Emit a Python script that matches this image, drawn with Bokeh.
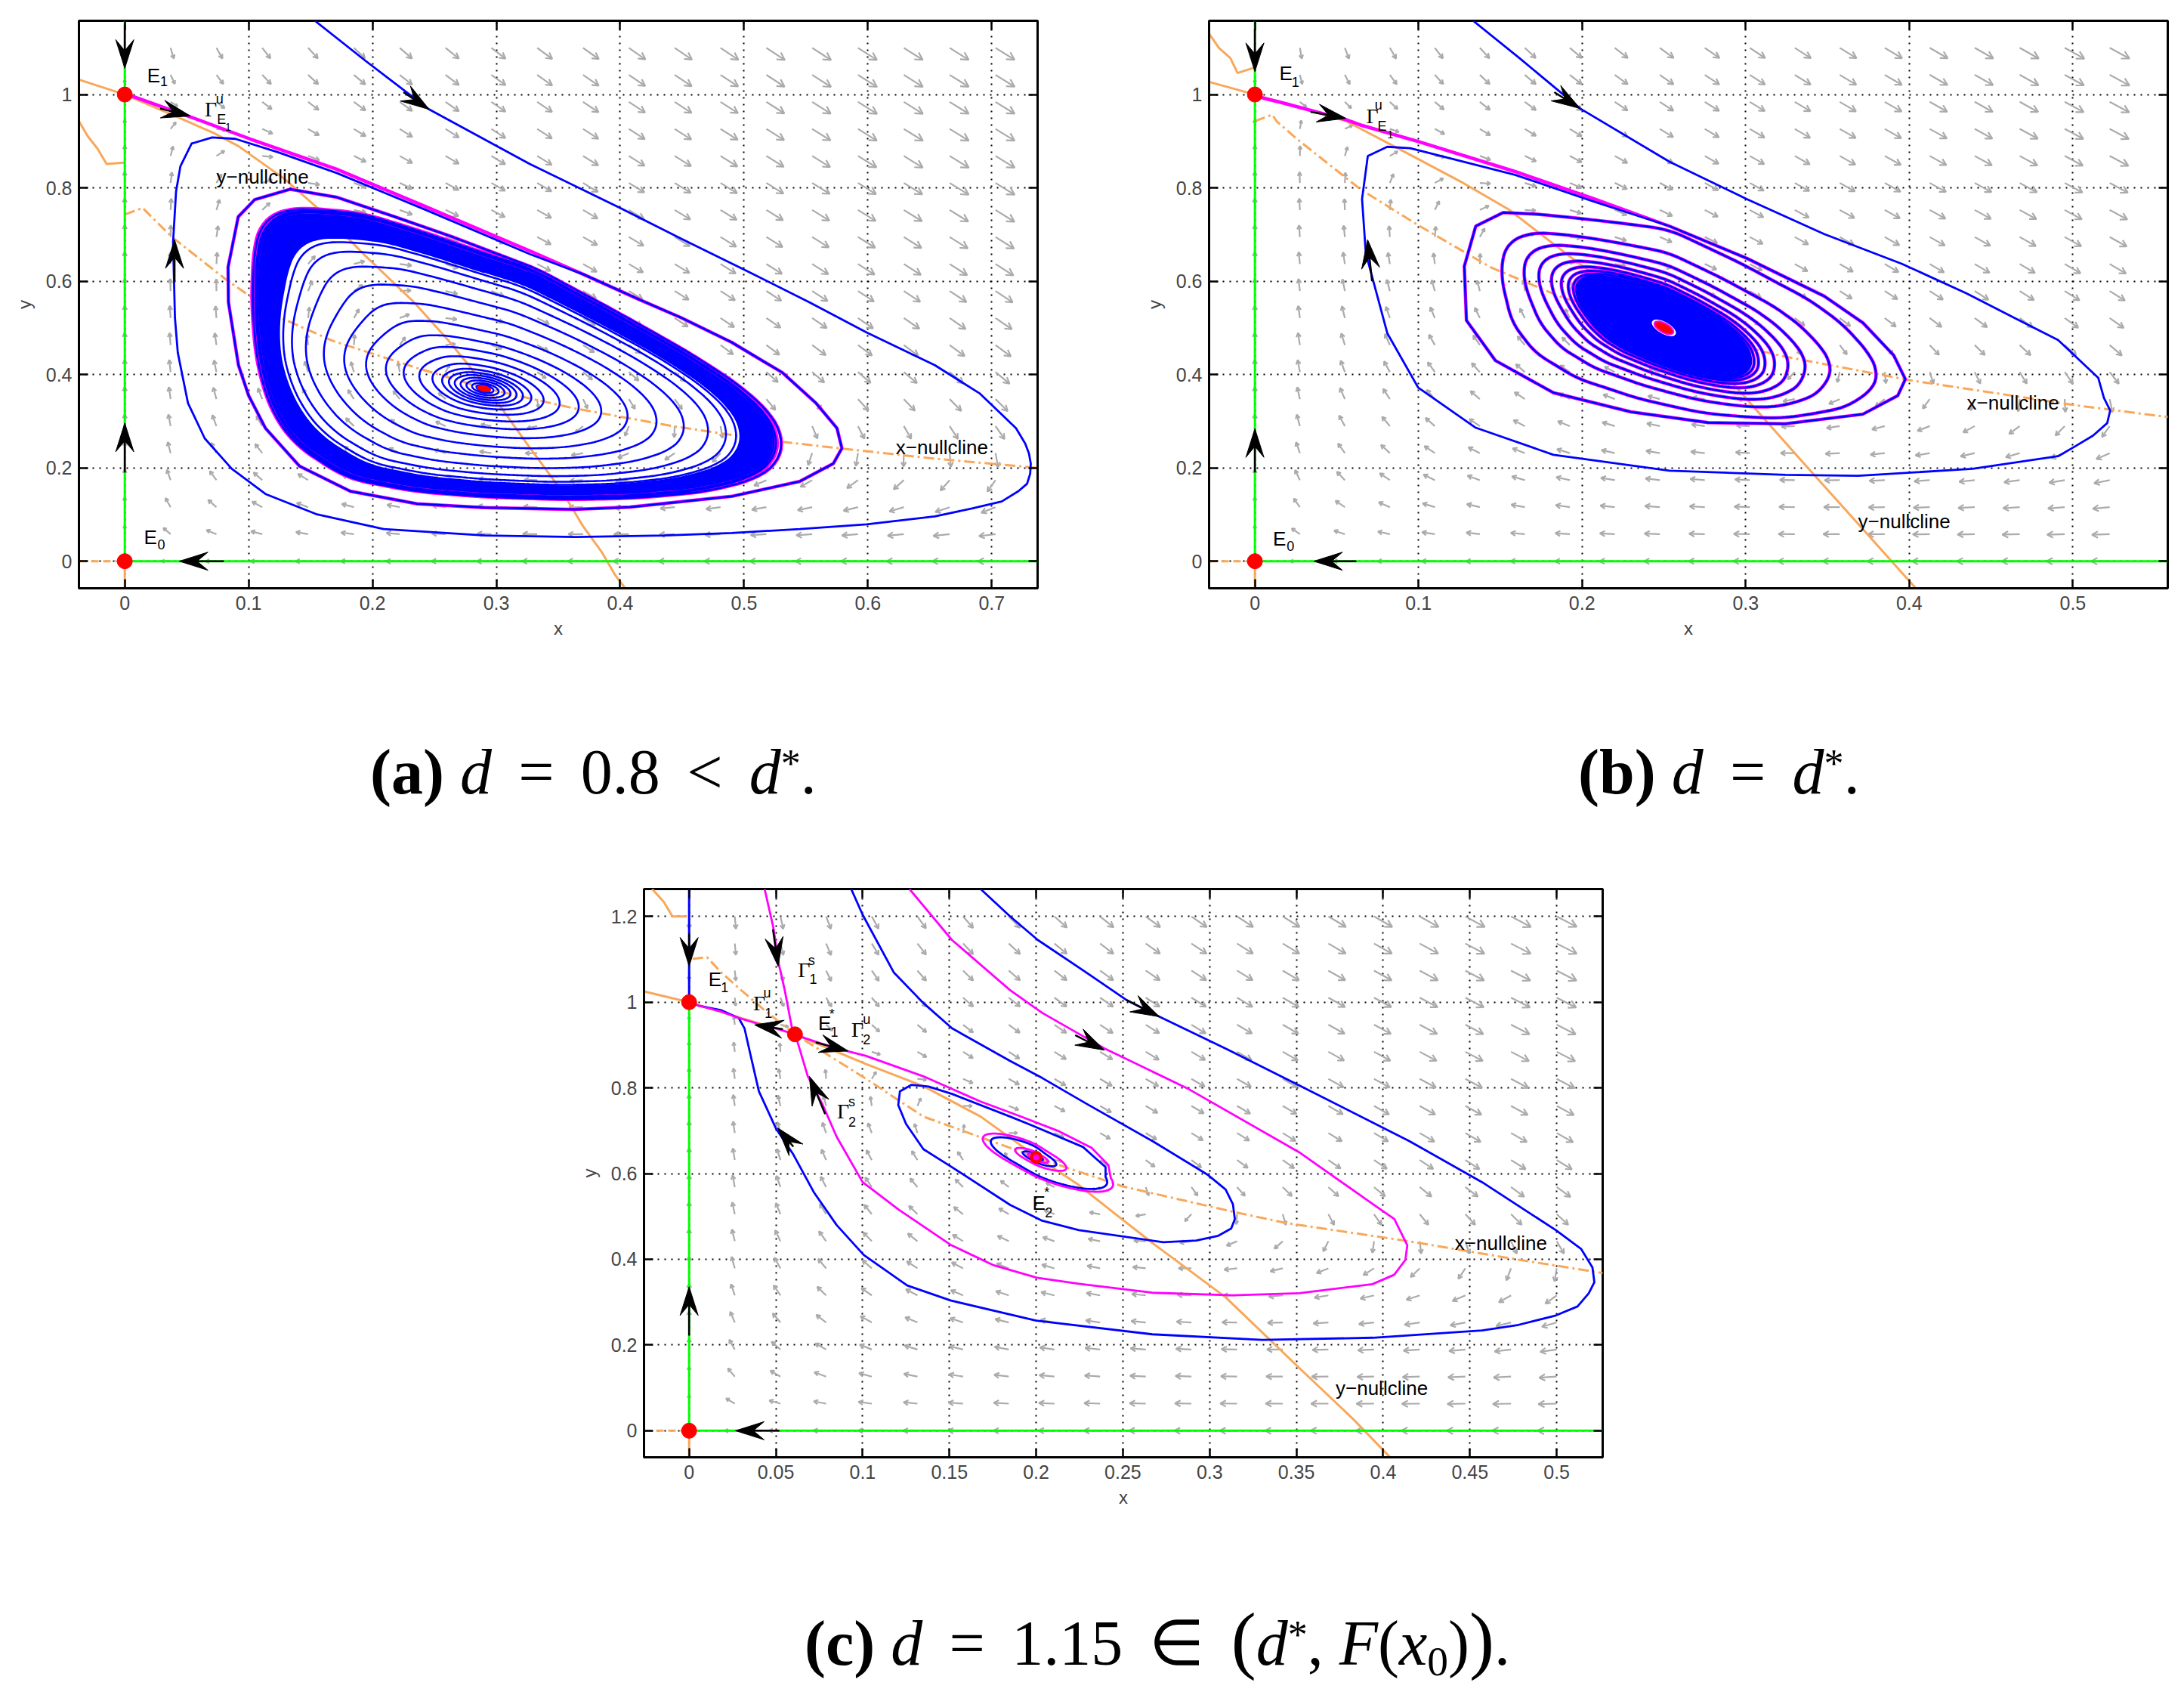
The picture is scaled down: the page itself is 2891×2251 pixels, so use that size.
import numpy as np
from bokeh.plotting import figure
from bokeh.models import Range1d, FixedTicker, LinearAxis, Div, Spacer
from bokeh.layouts import row, column
from bokeh.embed import file_html
from bokeh.resources import INLINE
from bokeh.core.properties import value

# ------------------------------------------------------------------
# Values
# ------------------------------------------------------------------
# vector-field coefficients, fitted to the nullclines
PREY_NULL_LIN = 0.82          # y-nullcline  y = 1 - 0.82 x - 4.54 x^2
PREY_NULL_QUAD = 4.54
PRED_NULL_K = 3.45            # x-nullcline  y = c / (1 + 3.45 x)
PRED_NULL_C = [0.74, 0.93, 1.064]   # panels a, b, c
PRED_RATE = 0.91

# ---------------- panel (a) ----------------
A_XR = [-0.037, 0.737]
A_YR = [-0.058, 1.158]
A_XTICKS = [0, 0.1, 0.2, 0.3, 0.4, 0.5, 0.6, 0.7]
A_XLABELS = ["0", "0.1", "0.2", "0.3", "0.4", "0.5", "0.6", "0.7"]
A_YTICKS = [0, 0.2, 0.4, 0.6, 0.8, 1.0]
A_YLABELS = ["0", "0.2", "0.4", "0.6", "0.8", "1"]
A_QX = [0.0, 0.703, 20]
A_QY = [0.0, 1.1, 20]
A_EQ_X = [0.0, 0.0]
A_EQ_Y = [0.0, 1.0]
A_FOCUS = [0.29, 0.37]
A_Y_NULL = [(-0.037, 1.032), (0.0, 1.0), (0.038, 0.957), (0.073, 0.916), (0.092, 0.889), (0.129, 0.819),
            (0.159, 0.749), (0.194, 0.655), (0.2335, 0.555), (0.261, 0.474), (0.291, 0.377), (0.326, 0.247),
            (0.353, 0.15), (0.37, 0.075), (0.385, 0.02), (0.396, -0.03), (0.404, -0.058)]
A_X_NULL = [(0.0, 0.743), (0.0145, 0.757), (0.0215, 0.738), (0.038, 0.695), (0.059, 0.651), (0.082, 0.603),
            (0.106, 0.559), (0.124, 0.524), (0.168, 0.472), (0.236, 0.414), (0.29, 0.371), (0.362, 0.328),
            (0.441, 0.29), (0.517, 0.26), (0.577, 0.242), (0.653, 0.22), (0.737, 0.2)]
A_X_NULL_EDGE = [(-0.037, 0.943), (-0.030, 0.911), (-0.022, 0.884), (-0.0147, 0.851), (-0.0007, 0.854)]
A_GAMMA_TOP = [(0.0, 1.0), (0.0075, 0.995), (0.054, 0.951), (0.101, 0.905), (0.171, 0.84), (0.241, 0.762),
               (0.327, 0.665)]
A_FIRST_LOOP = [(0.37, 0.615), (0.416, 0.56), (0.449, 0.522), (0.49, 0.469), (0.531, 0.404), (0.558, 0.339),
                (0.575, 0.285), (0.579, 0.242), (0.572, 0.209), (0.545, 0.171), (0.49, 0.139), (0.408, 0.116),
                (0.364, 0.111), (0.29, 0.115), (0.236, 0.123), (0.182, 0.15), (0.141, 0.204), (0.1136, 0.285),
                (0.1, 0.355), (0.0918, 0.42), (0.0837, 0.555), (0.0834, 0.63), (0.0916, 0.738), (0.105, 0.775),
                (0.1336, 0.797), (0.171, 0.78), (0.218, 0.738), (0.2645, 0.695), (0.327, 0.632)]
A_ORBIT_OUT = [(0.1535, 1.158), (0.194, 1.073), (0.2458, 0.968), (0.3, 0.89), (0.327, 0.851), (0.4, 0.757),
               (0.45, 0.69), (0.5, 0.625), (0.5527, 0.555), (0.599, 0.49), (0.654, 0.42), (0.69, 0.36),
               (0.709, 0.312), (0.7196, 0.285), (0.727, 0.252), (0.730, 0.231), (0.7315, 0.209),
               (0.731, 0.1876), (0.7285, 0.166), (0.7215, 0.15), (0.708, 0.128), (0.684, 0.113),
               (0.654, 0.096), (0.599, 0.079), (0.545, 0.069), (0.49, 0.0605), (0.4355, 0.055), (0.364, 0.052),
               (0.291, 0.055), (0.209, 0.069), (0.1545, 0.101), (0.1136, 0.144), (0.0864, 0.198),
               (0.0646, 0.263), (0.051, 0.339), (0.0428, 0.447), (0.0405, 0.522), (0.039, 0.684),
               (0.0414, 0.792), (0.0449, 0.846), (0.054, 0.895), (0.0706, 0.908), (0.0893, 0.905),
               (0.124, 0.876), (0.171, 0.832), (0.241, 0.755), (0.327, 0.658)]
A_CYCLE = [(0.107, 0.60), (0.109, 0.68), (0.115, 0.725), (0.129, 0.745), (0.148, 0.749), (0.194, 0.738),
           (0.241, 0.70), (0.288, 0.657), (0.327, 0.624), (0.3945, 0.528), (0.449, 0.447), (0.49, 0.377),
           (0.517, 0.312), (0.525, 0.263), (0.523, 0.22), (0.504, 0.182), (0.463, 0.155), (0.408, 0.142),
           (0.354, 0.139), (0.29, 0.144), (0.236, 0.155), (0.182, 0.182), (0.141, 0.252), (0.122, 0.323),
           (0.111, 0.42), (0.107, 0.528)]
A_ELLIPSE = [0.19, 0.20, -0.5]
A_INNER_TURNS = [0.01, 0.02, 0.035, 0.055, 0.08, 0.105, 0.13, 0.155, 0.185, 0.23, 0.29, 0.36, 0.44, 0.53,
                 0.63, 0.72, 0.80, 0.86, 0.895, 0.91]
A_BAND = [0.91, 1.0]
A_GAMMA_TURNS = [1.02, 1.01, 1.003]
A_ORBIT_TURNS = [1.015, 1.006, 1.0]
A_ARROWS = [(0.0, 1.15, 0.0, 1.056), (0.0285, 0.97, 0.053, 0.954), (0.225, 1.005, 0.2458, 0.968),
            (0.0402, 0.60, 0.0402, 0.689), (0.0, 0.19, 0.0, 0.296), (0.08, 0.0, 0.044, 0.0)]
A_LABELS = [("E", 0.018, 1.040, "main"), ("1", 0.0285, 1.028, "sub"),
            ("\u0393", 0.0645, 0.968, "gamma"), ("u", 0.0735, 0.99, "sub"), ("E", 0.0745, 0.946, "sub"),
            ("1", 0.081, 0.931, "tiny"),
            ("y\u2212nullcline", 0.074, 0.824, "main"), ("x\u2212nullcline", 0.6225, 0.244, "main"),
            ("E", 0.0155, 0.052, "main"), ("0", 0.0264, 0.036, "sub")]

# ---------------- panel (b) ----------------
B_XR = [-0.028, 0.558]
B_YR = [-0.058, 1.158]
B_XTICKS = [0, 0.1, 0.2, 0.3, 0.4, 0.5]
B_XLABELS = ["0", "0.1", "0.2", "0.3", "0.4", "0.5"]
B_YTICKS = [0, 0.2, 0.4, 0.6, 0.8, 1.0]
B_YLABELS = ["0", "0.2", "0.4", "0.6", "0.8", "1"]
B_QX = [0.0, 0.5225, 20]
B_QY = [0.0, 1.1, 20]
B_EQ_X = [0.0, 0.0]
B_EQ_Y = [0.0, 1.0]
B_FOCUS = [0.25, 0.50]
B_Y_NULL = [(-0.028, 1.027), (0.0, 1.0), (0.015, 0.984), (0.0557, 0.943), (0.091, 0.878), (0.126, 0.813),
            (0.155, 0.754), (0.194, 0.649), (0.25, 0.505), (0.2916, 0.383), (0.337, 0.204), (0.37, 0.075),
            (0.404, -0.058)]
B_X_NULL = [(0.0, 0.943), (0.0106, 0.957), (0.0132, 0.943), (0.0256, 0.905), (0.0645, 0.797), (0.0998, 0.72),
            (0.144, 0.63), (0.188, 0.565), (0.25, 0.5), (0.323, 0.439), (0.4, 0.388), (0.502, 0.334),
            (0.558, 0.309)]
B_X_NULL_EDGE = [(-0.0283, 1.132), (-0.022, 1.1), (-0.015, 1.078), (-0.0106, 1.046), (-0.0009, 1.057)]
B_GAMMA_TOP = [(0.0, 1.0), (0.0053, 0.992), (0.015, 0.984), (0.0557, 0.946), (0.0643, 0.935), (0.1, 0.899),
               (0.159, 0.835), (0.206, 0.778)]
B_FIRST_LOOP = [(0.2534, 0.718), (0.3007, 0.649), (0.348, 0.568), (0.3716, 0.511), (0.3905, 0.441),
                (0.3976, 0.39), (0.393, 0.355), (0.3716, 0.315), (0.3243, 0.2945), (0.277, 0.297),
                (0.2298, 0.32), (0.1825, 0.361), (0.147, 0.43), (0.1293, 0.516), (0.128, 0.632),
                (0.135, 0.718), (0.1518, 0.747), (0.1707, 0.744)]
B_ORBIT_OUT = [(0.1334, 1.158), (0.1617, 1.078), (0.1988, 0.97), (0.2534, 0.856), (0.3007, 0.776),
               (0.348, 0.701), (0.3953, 0.6375), (0.435, 0.574), (0.465, 0.52), (0.491, 0.474), (0.5155, 0.393),
               (0.519, 0.35), (0.5228, 0.323), (0.521, 0.296), (0.5123, 0.269), (0.5018, 0.247),
               (0.491, 0.225), (0.4387, 0.198), (0.3687, 0.183),
               (0.3243, 0.185), (0.2534, 0.194), (0.1825, 0.228), (0.135, 0.286), (0.0998, 0.372),
               (0.081, 0.488), (0.0678, 0.66), (0.0655, 0.776), (0.069, 0.868), (0.0809, 0.888),
               (0.095, 0.885), (0.159, 0.828), (0.206, 0.772)]
B_ELLIPSE = [0.125, 0.17, -1.6]
B_TURNS = [0.81, 0.70, 0.625, 0.56, 0.51, 0.475, 0.45, 0.435]
B_BLOB = 0.43
B_ARROWS = [(0.0, 1.14, 0.0, 1.049), (0.034, 0.963, 0.0557, 0.949), (0.183, 1.005, 0.1988, 0.97),
            (0.0716, 0.60, 0.0689, 0.689), (0.0, 0.19, 0.0, 0.284), (0.062, 0.0, 0.036, 0.0)]
B_LABELS = [("E", 0.015, 1.046, "main"), ("1", 0.0225, 1.027, "sub"),
            ("\u0393", 0.068, 0.954, "gamma"), ("u", 0.0733, 0.978, "sub"), ("E", 0.075, 0.932, "sub"),
            ("1", 0.081, 0.915, "tiny"),
            ("x\u2212nullcline", 0.4352, 0.339, "main"), ("y\u2212nullcline", 0.3687, 0.085, "main"),
            ("E", 0.011, 0.048, "main"), ("0", 0.0195, 0.032, "sub")]

# ---------------- panel (c) ----------------
C_XR = [-0.026, 0.5265]
C_YR = [-0.062, 1.264]
C_XTICKS = [0, 0.05, 0.1, 0.15, 0.2, 0.25, 0.3, 0.35, 0.4, 0.45, 0.5]
C_XLABELS = ["0", "0.05", "0.1", "0.15", "0.2", "0.25", "0.3", "0.35", "0.4", "0.45", "0.5"]
C_YTICKS = [0, 0.2, 0.4, 0.6, 0.8, 1.0, 1.2]
C_YLABELS = ["0", "0.2", "0.4", "0.6", "0.8", "1", "1.2"]
C_QX = [0.0, 0.5, 20]
C_QY = [0.0, 1.2, 20]
C_EQ_X = [0.0, 0.0, 0.061]
C_EQ_Y = [0.0, 1.0, 0.925]
C_FOCUS = [0.2, 0.638]
C_Y_NULL = [(-0.026, 1.025), (0.0, 1.0), (0.03, 0.963), (0.061, 0.925), (0.1017, 0.856), (0.135, 0.804),
            (0.168, 0.733), (0.2, 0.64), (0.224, 0.575), (0.249, 0.495), (0.268, 0.435), (0.309, 0.312),
            (0.3515, 0.147), (0.383, 0.026), (0.404, -0.062)]
C_X_NULL = [(0.002, 1.101), (0.0103, 1.105), (0.0186, 1.069), (0.030, 1.028), (0.0435, 0.981), (0.061, 0.925),
            (0.1017, 0.822), (0.135, 0.733), (0.2, 0.638), (0.25, 0.57), (0.3134, 0.511), (0.3436, 0.485),
            (0.415, 0.442), (0.478, 0.399), (0.5265, 0.368)]
C_X_NULL_EDGE = [(-0.0213, 1.264), (-0.0146, 1.234), (-0.0096, 1.2), (-0.0013, 1.2)]
C_AXIS_ORBIT = [(0.0, 1.264), (0.0, 1.0)]
C_GAMMA_S1 = [(0.0435, 1.264), (0.0485, 1.175), (0.0518, 1.087), (0.0551, 1.028), (0.0593, 0.939),
              (0.061, 0.925)]
C_GAMMA_U1 = [(0.061, 0.925), (0.05, 0.939), (0.0385, 0.951), (0.0286, 0.963), (0.0186, 0.978),
              (0.0053, 0.992), (0.0, 1.0)]
C_GAMMA_U2 = [(0.061, 0.925), (0.0668, 0.916), (0.085, 0.892), (0.1017, 0.875), (0.135, 0.827),
              (0.168, 0.768), (0.19, 0.735), (0.2124, 0.70), (0.232, 0.66), (0.2416, 0.62), (0.243, 0.59)]
C_GAMMA_U2_TURNS = [0.45, 0.18, 0.07, 0.02]
C_GAMMA_S2 = [(0.127, 1.264), (0.1515, 1.145), (0.185, 1.028), (0.2035, 0.975), (0.229, 0.916),
              (0.2394, 0.892), (0.288, 0.797), (0.3515, 0.65), (0.394, 0.529), (0.4064, 0.494),
              (0.4139, 0.433), (0.4128, 0.3986), (0.4064, 0.364), (0.3938, 0.342), (0.3515, 0.321),
              (0.3134, 0.316), (0.267, 0.322), (0.2246, 0.343), (0.2005, 0.357), (0.1756, 0.386),
              (0.1506, 0.434), (0.1207, 0.516), (0.1, 0.58), (0.085, 0.686), (0.0767, 0.763), (0.0684, 0.827),
              (0.063, 0.9), (0.061, 0.925)]
C_ORBIT_MID = [(0.0934, 1.264), (0.1, 1.204), (0.118, 1.069), (0.135, 0.998), (0.1515, 0.939), (0.185, 0.863),
               (0.2035, 0.823), (0.229, 0.763), (0.267, 0.676), (0.2986, 0.598), (0.3092, 0.563),
               (0.3134, 0.5286), (0.3145, 0.494), (0.3124, 0.472), (0.305, 0.455), (0.2923, 0.4437),
               (0.2733, 0.44), (0.2246, 0.468), (0.2035, 0.49), (0.185, 0.527),
               (0.1515, 0.615), (0.135, 0.657), (0.125, 0.716), (0.1205, 0.76), (0.1215, 0.792), (0.128, 0.807),
               (0.138, 0.803), (0.1515, 0.786), (0.185, 0.733), (0.1978, 0.712), (0.227, 0.662), (0.24, 0.615),
               (0.24, 0.592)]
C_ORBIT_MID_TURNS = [0.3, 0.1, 0.03]
C_ORBIT_OUT = [(0.168, 1.264), (0.185, 1.2), (0.201, 1.145), (0.229, 1.069), (0.2521, 1.005), (0.2711, 0.966),
               (0.31, 0.89), (0.3515, 0.806), (0.415, 0.676), (0.457, 0.58), (0.4995, 0.468), (0.514, 0.4246),
               (0.5206, 0.381), (0.5217, 0.3466), (0.5185, 0.321), (0.512, 0.29), (0.4995, 0.269),
               (0.478, 0.247), (0.457, 0.234), (0.394, 0.217), (0.3303, 0.212),
               (0.267, 0.225), (0.2, 0.257), (0.1506, 0.304), (0.1257, 0.339), (0.1007, 0.41), (0.085, 0.48),
               (0.0718, 0.557), (0.060, 0.645), (0.0502, 0.704), (0.0402, 0.792), (0.0352, 0.88),
               (0.0319, 0.939), (0.0286, 0.963), (0.0186, 0.981), (0.0053, 0.992), (0.0, 1.0)]
C_ELLIPSE = [0.039, 0.045, -1.44]
C_ARROWS = [(0.0, 1.16, 0.0, 1.084), (0.0483, 1.17, 0.0513, 1.084), (0.054, 0.937, 0.0377, 0.947),
            (0.073, 0.906, 0.0917, 0.886), (0.0784, 0.739, 0.0693, 0.827), (0.0601, 0.6626, 0.051, 0.7067),
            (0.2521, 1.005, 0.2711, 0.966), (0.2225, 0.923, 0.2394, 0.888), (0.0, 0.222, 0.0, 0.336),
            (0.052, 0.0, 0.0267, 0.0)]
C_LABELS = [("E", 0.0111, 1.054, "main"), ("1", 0.0183, 1.034, "sub"),
            ("\u0393", 0.0627, 1.075, "gamma"), ("s", 0.0686, 1.098, "sub"), ("1", 0.0694, 1.054, "sub"),
            ("\u0393", 0.0369, 0.998, "gamma"), ("u", 0.0428, 1.021, "sub"), ("1", 0.0436, 0.975, "sub"),
            ("E", 0.0744, 0.951, "main"), ("*", 0.0808, 0.972, "sub"), ("1", 0.0815, 0.93, "sub"),
            ("\u0393", 0.0935, 0.936, "gamma"), ("u", 0.1002, 0.96, "sub"), ("2", 0.1002, 0.913, "sub"),
            ("\u0393", 0.0852, 0.745, "gamma"), ("s", 0.0918, 0.768, "sub"), ("2", 0.0918, 0.721, "sub"),
            ("E", 0.1978, 0.532, "main"), ("*", 0.2046, 0.556, "sub"), ("2", 0.2051, 0.509, "sub"),
            ("x\u2212nullcline", 0.4413, 0.4376, "main"), ("y\u2212nullcline", 0.3726, 0.100, "main")]

OP = "<span style='margin:0 0.17em'>{}</span>"
CAPTION_A = ("<b>(a)</b>&nbsp;<i>d</i>&nbsp;" + OP.format("=") + "&nbsp;0.8&nbsp;" + OP.format("&lt;")
             + "&nbsp;<i>d</i>{s}.")
CAPTION_B = "<b>(b)</b>&nbsp;<i>d</i>&nbsp;" + OP.format("=") + "&nbsp;<i>d</i>{s}."
CAPTION_C = ("<b>(c)</b>&nbsp;<i>d</i>&nbsp;" + OP.format("=") + "&nbsp;1.15&nbsp;" + OP.format("\u2208")
             + "&nbsp;<span style='font-size:118%'>(</span><i>d</i>{s},&nbsp;<i>F</i>(<i>x</i>{o})"
             "<span style='font-size:118%'>)</span>.")

# ------------------------------------------------------------------
# styling
# ------------------------------------------------------------------
FRAME_W = 1269
BLUE, MAGENTA, GREEN, ORANGE, RED, GRAY = "#0000FF", "#FF00FF", "#00FF00", "#F8A85A", "#FF0000", "#ABABAB"
SANS = "Liberation Sans"
LABEL_STYLE = {"main": (SANS, "26px"), "sub": (SANS, "18px"), "tiny": (SANS, "14px"),
               "gamma": ("Liberation Serif", "28px")}


def arr(pts):
    a = np.asarray(pts, float)
    return a[:, 0], a[:, 1]


def base_fig(xr, yr, xt, xl, yt, yl, fh, bl, br, bt, bb):
    p = figure(x_range=Range1d(*xr), y_range=Range1d(*yr), frame_width=FRAME_W, frame_height=fh,
               min_border_left=bl, min_border_right=br, min_border_top=bt, min_border_bottom=bb,
               output_backend="svg", toolbar_location=None, background_fill_color="white",
               border_fill_color="white", outline_line_color="black", outline_line_width=3, margin=0)
    p.xaxis.ticker = FixedTicker(ticks=xt)
    p.xaxis.major_label_overrides = dict(zip(xt, xl))
    p.yaxis.ticker = FixedTicker(ticks=yt)
    p.yaxis.major_label_overrides = dict(zip(yt, yl))
    for ax in (p.xaxis[0], p.yaxis[0]):
        ax.major_tick_in = 12
        ax.major_tick_out = 0
        ax.minor_tick_line_color = None
        ax.major_tick_line_width = 2.5
        ax.axis_line_width = 3
        ax.major_label_text_font = SANS
        ax.major_label_text_font_size = "25px"
        ax.axis_label_text_font = SANS
        ax.axis_label_text_font_size = "24px"
        ax.axis_label_text_font_style = "normal"
    p.xaxis.axis_label = "x"
    p.yaxis.axis_label = "y"
    p.xaxis.major_label_standoff = 10
    p.yaxis.major_label_standoff = 9
    p.xaxis.axis_label_standoff = 8
    p.yaxis.axis_label_standoff = 12
    p.xgrid.ticker = FixedTicker(ticks=xt)
    p.ygrid.ticker = FixedTicker(ticks=yt)
    p.grid.grid_line_color = "black"
    p.grid.grid_line_dash = "2 7"
    p.grid.grid_line_width = 2
    for loc, t in (("above", xt), ("right", yt)):
        ax = LinearAxis(ticker=FixedTicker(ticks=t), major_tick_in=12, major_tick_out=0,
                        minor_tick_line_color=None, major_tick_line_width=2.5, axis_line_color=None,
                        major_label_text_color=None, major_label_standoff=0)
        p.add_layout(ax, loc)
    return p


def densify(pts, sx, sy, n=1200, win=41):
    """Resample a closed read-off outline evenly along its length and round its corners."""
    x, y = arr(list(pts) + [pts[0]])
    seg = np.hypot(np.diff(x) * sx, np.diff(y) * sy)
    s = np.concatenate([[0], np.cumsum(seg)])
    q = np.linspace(0, s[-1], n, endpoint=False)
    xs, ys = np.interp(q, s, x), np.interp(q, s, y)
    k = np.ones(win) / win
    pad = win // 2
    xs = np.convolve(np.concatenate([xs[-pad:], xs, xs[:pad]]), k, mode="valid")
    ys = np.convolve(np.concatenate([ys[-pad:], ys, ys[:pad]]), k, mode="valid")
    return xs, ys


def polar_fn(px, py, c, sx, sy):
    u = (np.asarray(px, float) - c[0]) * sx
    v = (np.asarray(py, float) - c[1]) * sy
    phi = np.arctan2(v, u)
    r = np.hypot(u, v)
    o = np.argsort(phi)
    phi, r = phi[o], r[o]
    P = np.concatenate([phi - 2 * np.pi, phi, phi + 2 * np.pi])
    R = np.concatenate([r, r, r])

    def f(q):
        q = np.mod(np.asarray(q, float) + np.pi, 2 * np.pi) - np.pi
        return np.interp(q, P, R)
    return f


def make_shape(c, sx, sy, tmpl, ell, pw=1.5):
    hx, hy, k = ell
    t = np.linspace(0, 2 * np.pi, 721)
    ex = c[0] + hx * np.cos(t)
    ey = c[1] + hy * np.sin(t) + k * hx * np.cos(t)
    rE = polar_fn(ex, ey, c, sx, sy)
    rT = polar_fn(*densify(tmpl, sx, sy), c, sx, sy) if tmpl is not None else rE

    def r_of(phi, s):
        w = np.clip(s, 0, 1) ** pw
        return s * (w * rT(phi) + (1 - w) * rE(phi))
    return r_of


def spiral(c, sx, sy, r_of, start, turns, n=360):
    cx, cy = c
    if start is None:
        phi0 = np.pi / 2
        s_list = list(turns)
    else:
        u0, v0 = (start[0] - cx) * sx, (start[1] - cy) * sy
        phi0, r0 = np.arctan2(v0, u0), np.hypot(u0, v0)
        s0 = 1.0
        for _ in range(40):
            s0 = s0 * r0 / float(r_of(np.array([phi0]), np.array([s0]))[0])
        s_list = [s0] + list(turns)
    N = len(s_list) - 1
    tau = np.linspace(0, N, N * n + 1)
    s = np.interp(tau, np.arange(N + 1), s_list)
    phi = phi0 - 2 * np.pi * tau
    r = r_of(phi, s)
    return cx + r * np.cos(phi) / sx, cy + r * np.sin(phi) / sy


def ring(c, sx, sy, r_of, s):
    phi = np.linspace(-np.pi, np.pi, 721)
    r = r_of(phi, np.full_like(phi, s))
    return c[0] + r * np.cos(phi) / sx, c[1] + r * np.sin(phi) / sy


def quiver(p, qx, qy, cpred, sx, sy):
    gx = np.linspace(qx[0], qx[1], int(qx[2]))
    gy = np.linspace(qy[0], qy[1], int(qy[2]))
    X, Y = np.meshgrid(gx, gy)
    U = PRED_RATE * X * (Y * (1 + PRED_NULL_K * X) - cpred)
    V = Y * (1 - Y - PREY_NULL_LIN * X - PREY_NULL_QUAD * X ** 2)
    su, sv = U * sx, V * sy
    m = np.hypot(su, sv)
    ok = m > 1e-6
    th = np.arctan2(sv, su)
    L = 27 * np.clip((m / 1500.0) ** 0.22, 0.4, 1.1)
    xs, ys = [], []
    for x0, y0, t, l in zip(X[ok], Y[ok], th[ok], L[ok]):
        tx, ty = x0 + l * np.cos(t) / sx, y0 + l * np.sin(t) / sy
        xs.append([x0, tx]); ys.append([y0, ty])
        b = 0.38 * l
        b1 = (tx + b * np.cos(t + np.pi - 0.5) / sx, ty + b * np.sin(t + np.pi - 0.5) / sy)
        b2 = (tx + b * np.cos(t + np.pi + 0.5) / sx, ty + b * np.sin(t + np.pi + 0.5) / sy)
        xs.append([b1[0], tx, b2[0]]); ys.append([b1[1], ty, b2[1]])
    p.multi_line(xs, ys, line_color=GRAY, line_width=2.2)


def black_arrows(p, arrows, sx, sy, L=38, W=12):
    hx, hy, lx, ly = [], [], [], []
    for x0, y0, x1, y1 in arrows:
        dx, dy = (x1 - x0) * sx, (y1 - y0) * sy
        n = np.hypot(dx, dy)
        ux, uy = dx / n, dy / n
        nx, ny = -uy, ux
        pts = [(0, 0), (-L * ux + W * nx, -L * uy + W * ny), (-0.62 * L * ux, -0.62 * L * uy),
               (-L * ux - W * nx, -L * uy - W * ny)]
        hx.append([x1 + a / sx for a, b in pts]); hy.append([y1 + b / sy for a, b in pts])
        lx.append([x0, x1 - 0.62 * L * ux / sx]); ly.append([y0, y1 - 0.62 * L * uy / sy])
    p.multi_line(lx, ly, line_color="black", line_width=2.5)
    p.patches(hx, hy, fill_color="black", line_color="black", line_width=1)


def put_labels(p, labels):
    for txt, x, y, kind in labels:
        font, size = LABEL_STYLE[kind]
        p.text(x=[x], y=[y], text=[txt], text_font=value(font), text_font_size=value(size),
               text_align="left", text_baseline="alphabetic", text_color="black")


def nullclines(p, xr, yr, ynull, xnull, xedge):
    p.line([xr[0], 0], [0, 0], line_color=ORANGE, line_width=3, line_dash="10 6")
    p.line([0, 0], [yr[0], 0], line_color=ORANGE, line_width=3)
    p.line(*arr(ynull), line_color=ORANGE, line_width=3)
    p.line(*arr(xnull), line_color=ORANGE, line_width=3, line_dash="14 5 3 5")
    p.line(*arr(xedge), line_color=ORANGE, line_width=3)


def scales(xr, yr, fh):
    return FRAME_W / (xr[1] - xr[0]), fh / (yr[1] - yr[0])


# ------------------------------------------------------------------
# panel (a)
# ------------------------------------------------------------------
FH_AB = 751
pa = base_fig(A_XR, A_YR, A_XTICKS, A_XLABELS, A_YTICKS, A_YLABELS, FH_AB, 96, 131, 19, 80)
sxa, sya = scales(A_XR, A_YR, FH_AB)
quiver(pa, A_QX, A_QY, PRED_NULL_C[0], sxa, sya)
nullclines(pa, A_XR, A_YR, A_Y_NULL, A_X_NULL, A_X_NULL_EDGE)
pa.line([0, 0], [0, A_YR[1]], line_color=GREEN, line_width=3)
pa.line([0, A_XR[1]], [0, 0], line_color=GREEN, line_width=3)
shape_a = make_shape(A_FOCUS, sxa, sya, A_CYCLE, A_ELLIPSE)
ix, iy = spiral(A_FOCUS, sxa, sya, shape_a, None, A_INNER_TURNS)
pa.line(ix, iy, line_color=BLUE, line_width=2.6)
ox, oy = ring(A_FOCUS, sxa, sya, shape_a, A_BAND[1])
inx, iny = ring(A_FOCUS, sxa, sya, shape_a, A_BAND[0])
pa.multi_polygons(xs=[[[list(ox), list(inx)]]], ys=[[[list(oy), list(iny)]]],
                  fill_color=BLUE, line_color=BLUE, line_width=1.5)
gx1, gy1 = arr(A_GAMMA_TOP + A_FIRST_LOOP)
sgx, sgy = spiral(A_FOCUS, sxa, sya, shape_a, A_FIRST_LOOP[-1], A_GAMMA_TURNS)
pa.line(np.concatenate([gx1, sgx]), np.concatenate([gy1, sgy]), line_color=MAGENTA, line_width=4.5)
bx1, by1 = arr(A_ORBIT_OUT + A_FIRST_LOOP)
sbx, sby = spiral(A_FOCUS, sxa, sya, shape_a, A_FIRST_LOOP[-1], A_ORBIT_TURNS)
pa.line(np.concatenate([bx1, sbx]), np.concatenate([by1, sby]), line_color=BLUE, line_width=2.8)
pa.ellipse(x=[A_FOCUS[0]], y=[A_FOCUS[1]], width=0.011, height=0.012, angle=-0.2,
           fill_color=RED, line_color=RED)
pa.scatter(A_EQ_X, A_EQ_Y, size=20, marker="circle", fill_color=RED, line_color=RED)
black_arrows(pa, A_ARROWS, sxa, sya)
put_labels(pa, A_LABELS)

# ------------------------------------------------------------------
# panel (b)
# ------------------------------------------------------------------
pb = base_fig(B_XR, B_YR, B_XTICKS, B_XLABELS, B_YTICKS, B_YLABELS, FH_AB, 96, 10, 19, 80)
sxb, syb = scales(B_XR, B_YR, FH_AB)
quiver(pb, B_QX, B_QY, PRED_NULL_C[1], sxb, syb)
nullclines(pb, B_XR, B_YR, B_Y_NULL, B_X_NULL, B_X_NULL_EDGE)
pb.line([0, 0], [0, B_YR[1]], line_color=GREEN, line_width=3)
pb.line([0, B_XR[1]], [0, 0], line_color=GREEN, line_width=3)
shape_b = make_shape(B_FOCUS, sxb, syb, B_FIRST_LOOP, B_ELLIPSE)
gx1, gy1 = arr(B_GAMMA_TOP + B_FIRST_LOOP)
sgx, sgy = spiral(B_FOCUS, sxb, syb, shape_b, B_FIRST_LOOP[-1], B_TURNS)
pb.line(np.concatenate([gx1, sgx]), np.concatenate([gy1, sgy]), line_color=MAGENTA, line_width=4.5)
bx1, by1 = arr(B_ORBIT_OUT + B_FIRST_LOOP)
pb.line(np.concatenate([bx1, sgx]), np.concatenate([by1, sgy]), line_color=BLUE, line_width=2.8)
blx, bly = ring(B_FOCUS, sxb, syb, shape_b, B_BLOB)
pb.patch(blx, bly, fill_color=BLUE, line_color=BLUE, line_width=2)
pb.ellipse(x=[B_FOCUS[0]], y=[B_FOCUS[1]], width=0.016, height=0.024, angle=-0.5,
           fill_color="white", line_color="white", line_width=1)
pb.ellipse(x=[B_FOCUS[0]], y=[B_FOCUS[1]], width=0.013, height=0.02, angle=-0.5,
           fill_color=RED, line_color=MAGENTA, line_width=2)
pb.scatter(B_EQ_X, B_EQ_Y, size=20, marker="circle", fill_color=RED, line_color=RED)
black_arrows(pb, B_ARROWS, sxb, syb)
put_labels(pb, B_LABELS)

# ------------------------------------------------------------------
# panel (c)
# ------------------------------------------------------------------
FH_C = 752
pc = base_fig(C_XR, C_YR, C_XTICKS, C_XLABELS, C_YTICKS, C_YLABELS, FH_C, 96, 10, 18, 80)
sxc, syc = scales(C_XR, C_YR, FH_C)
quiver(pc, C_QX, C_QY, PRED_NULL_C[2], sxc, syc)
nullclines(pc, C_XR, C_YR, C_Y_NULL, C_X_NULL, C_X_NULL_EDGE)
pc.line([0, 0], [0, 1.0], line_color=GREEN, line_width=3)
pc.line([0, C_XR[1]], [0, 0], line_color=GREEN, line_width=3)
pc.line(*arr(C_AXIS_ORBIT), line_color=BLUE, line_width=3)
shape_c = make_shape(C_FOCUS, sxc, syc, None, C_ELLIPSE)
pc.line(*arr(C_ORBIT_OUT), line_color=BLUE, line_width=2.8)
mx, my = arr(C_ORBIT_MID)
smx, smy = spiral(C_FOCUS, sxc, syc, shape_c, C_ORBIT_MID[-1], C_ORBIT_MID_TURNS)
pc.line(np.concatenate([mx, smx]), np.concatenate([my, smy]), line_color=BLUE, line_width=2.8)
pc.line(*arr(C_GAMMA_S2), line_color=MAGENTA, line_width=2.8)
pc.line(*arr(C_GAMMA_S1), line_color=MAGENTA, line_width=2.8)
pc.line(*arr(C_GAMMA_U1), line_color=MAGENTA, line_width=2.8)
ux, uy = arr(C_GAMMA_U2)
sux, suy = spiral(C_FOCUS, sxc, syc, shape_c, C_GAMMA_U2[-1], C_GAMMA_U2_TURNS)
pc.line(np.concatenate([ux, sux]), np.concatenate([uy, suy]), line_color=MAGENTA, line_width=2.8)
pc.scatter([C_FOCUS[0]], [C_FOCUS[1]], size=16, marker="circle", fill_color=RED, line_color=RED)
pc.scatter([C_FOCUS[0]], [C_FOCUS[1]], size=7, marker="circle", fill_color=MAGENTA, line_color=MAGENTA)
pc.scatter(C_EQ_X, C_EQ_Y, size=20, marker="circle", fill_color=RED, line_color=RED)
black_arrows(pc, C_ARROWS, sxc, syc)
put_labels(pc, C_LABELS)

# ------------------------------------------------------------------
# captions and layout
# ------------------------------------------------------------------
CAP_STYLE = ("font-family:'Liberation Serif',serif;font-size:84px;line-height:1;white-space:nowrap;"
             "color:black;position:absolute;")
SUP = "<span style='font-size:62%;position:relative;top:-0.42em'>*</span>"
SUB0 = "<span style='font-size:66%;position:relative;top:0.25em'>0</span>"
cap_ab_html = ("<div style='position:relative;width:2875px;height:300px'>"
               f"<span style=\"{CAP_STYLE}left:482px;top:122px\">{CAPTION_A.format(s=SUP)}</span>"
               f"<span style=\"{CAP_STYLE}left:2081px;top:122px\">{CAPTION_B.format(s=SUP)}</span></div>")
cap_c_html = ("<div style='position:relative;width:2875px;height:225px'>"
              f"<span style=\"{CAP_STYLE}left:1057px;top:112px\">{CAPTION_C.format(s=SUP, o=SUB0)}</span></div>")
cap_ab = Div(text=cap_ab_html, width=2875, height=300, margin=0)
cap_c = Div(text=cap_c_html, width=2875, height=225, margin=0)

inner = column(row(pa, pb, spacing=0),
               cap_ab,
               row(Spacer(width=748, height=10, margin=0), pc, spacing=0),
               cap_c, spacing=0)
layout = column(Spacer(width=10, height=8, margin=0),
                row(Spacer(width=8, height=10, margin=0), inner, spacing=0), spacing=0)

open("out.html", "w").write(file_html(layout, INLINE, "phase portraits"))
